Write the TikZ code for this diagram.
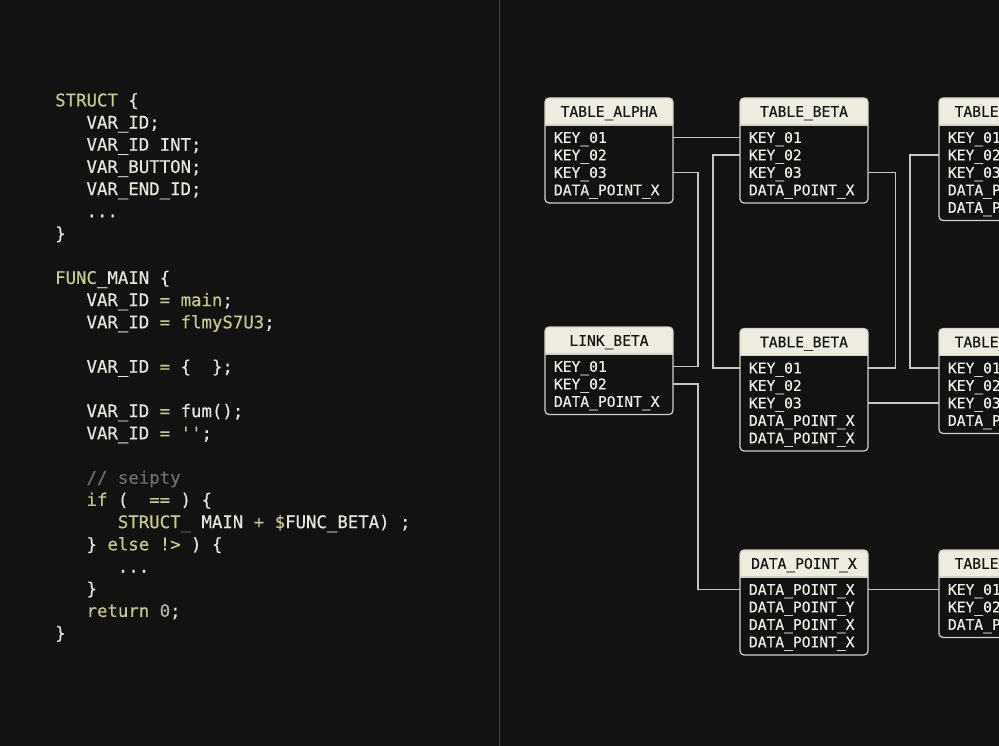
\documentclass[tikz,border=0pt]{standalone}
\usepackage{fontspec}
\setmonofont[FakeBold=0.35]{DejaVu Sans Mono}
\usetikzlibrary{calc}
\definecolor{bg}{HTML}{121212}
\definecolor{codew}{HTML}{E8E6DC}
\definecolor{kwcol}{HTML}{C9C98C}
\definecolor{cmtcol}{HTML}{6E6E6A}
\definecolor{zerocol}{HTML}{B4B4A6}
\definecolor{dimcol}{HTML}{6A6A5A}
\definecolor{dividercol}{HTML}{4A4A4A}
\definecolor{hdrfill}{HTML}{EEEBDF}
\definecolor{hdrtxt}{HTML}{161616}
\definecolor{framecol}{HTML}{D4D2C8}
\definecolor{rowcol}{HTML}{F0EEE6}
\definecolor{wirecol}{HTML}{C8C6BE}
\newcommand\kw[1]{\textcolor{kwcol}{#1}}
\newcommand\cmt[1]{\textcolor{cmtcol}{#1}}
\tikzset{
  hdr/.style={minimum width=128pt, minimum height=27pt, inner sep=0pt,
    text height=10.6pt, text depth=0pt,
    font=\ttfamily\fontsize{14.6}{17}\selectfont, text=hdrtxt},
  tabrow/.style={text width=110pt, inner xsep=9pt, inner ysep=0pt,
    minimum height=17.5pt, text height=10.6pt, text depth=0pt, align=left,
    font=\ttfamily\fontsize{14.6}{17}\selectfont, text=rowcol},
  codeline/.style={anchor=west, inner sep=0pt, text height=12.65pt, text depth=0pt,
    font=\ttfamily\fontsize{17.36}{20}\selectfont, text=codew},
  connector/.style={draw=wirecol, line width=1.3pt},
  tabframe/.style={draw=framecol, line width=1.2pt},
}
\newcommand\dbtable[5]{%
  \path[fill=hdrfill] (#2,#3+27) {[rounded corners=4pt] -- (#2,#3) -- (#2+128,#3)} -- (#2+128,#3+27) -- cycle;
  \node[hdr] (#1) at (#2+64,#3+13.5) {#4};
  \foreach \r [count=\i] in {#5} {\node[tabrow] (#1\i) at (#2+64,#3+22+17.5*\i) {\r}; \xdef\nrows{\i}}
  \draw[tabframe] (#2,#3+27) -- (#2+128,#3+27);
  \draw[tabframe, rounded corners=4pt] (#2,#3) rectangle (#2+128,#3+35+17.5*\nrows);
}
\begin{document}
\begin{tikzpicture}[x=1pt,y=-1pt]
\useasboundingbox (0,0) rectangle (999,746);
\clip (0,0) rectangle (999,746);
\fill[bg] (0,0) rectangle (999,746);
\draw[dividercol, line width=1.5pt] (499.5,0) -- (499.5,746);

% code
\def\cx#1{55+10.45*#1}
\node[codeline] (c0)  at ({\cx0},100)    {\kw{STRUCT} \{};
\node[codeline] (c1)  at ({\cx3},122.2)  {VAR\_ID;};
\node[codeline] (c2)  at ({\cx3},144.4)  {VAR\_ID INT;};
\node[codeline] (c3)  at ({\cx3},166.6)  {VAR\_BUTTON;};
\node[codeline] (c4)  at ({\cx3},188.8)  {VAR\_END\_ID;};
\node[codeline] (c5)  at ({\cx3},211)    {...};
\node[codeline] (c6)  at ({\cx0},233.2)  {\}};
\node[codeline] (c8)  at ({\cx0},277.6)  {\kw{FUNC}\_MAIN \{};
\node[codeline] (c9)  at ({\cx3},299.8)  {VAR\_ID \kw{= main};};
\node[codeline] (c10) at ({\cx3},322)    {VAR\_ID \kw{= flmyS7U3};};
\node[codeline] (c12) at ({\cx3},366.4)  {VAR\_ID \kw{=} \{~~\};};
\node[codeline] (c14) at ({\cx3},410.8)  {VAR\_ID \kw{=} fum();};
\node[codeline] (c15) at ({\cx3},433)    {VAR\_ID \kw{= ''};};
\node[codeline] (c17) at ({\cx3},477.4)  {\cmt{// seipty}};
\node[codeline] (c18) at ({\cx3},499.6)  {\kw{if} (~~\kw{==} ) \{};
\node[codeline] (c19) at ({\cx6},521.8)  {\kw{STRUCT}\textcolor{dimcol}{\_} MAIN \kw{+} \kw{\$}FUNC\_BETA) ;};
\node[codeline] (c20) at ({\cx3},544)    {\} \kw{else !>} ) \{};
\node[codeline] (c21) at ({\cx6},566.2)  {...};
\node[codeline] (c22) at ({\cx3},588.4)  {\}};
\node[codeline] (c23) at ({\cx3},610.6)  {\kw{return} \textcolor{zerocol}{0};};
\node[codeline] (c24) at ({\cx0},632.8)  {\}};

% tables
\dbtable{ta}{545}{98}{TABLE\_ALPHA}{KEY\_01,KEY\_02,KEY\_03,DATA\_POINT\_X}
\dbtable{tb}{740}{98}{TABLE\_BETA}{KEY\_01,KEY\_02,KEY\_03,DATA\_POINT\_X}
\dbtable{tg}{939}{98}{TABLE\_GAMMA}{KEY\_01,KEY\_02,KEY\_03,DATA\_POINT\_X,DATA\_POINT\_X}
\dbtable{lb}{545}{327}{LINK\_BETA}{KEY\_01,KEY\_02,DATA\_POINT\_X}
\dbtable{tc}{740}{328.5}{TABLE\_BETA}{KEY\_01,KEY\_02,KEY\_03,DATA\_POINT\_X,DATA\_POINT\_X}
\dbtable{th}{939}{328.5}{TABLE\_DELTA}{KEY\_01,KEY\_02,KEY\_03,DATA\_POINT\_X}
\dbtable{dp}{740}{550}{DATA\_POINT\_X}{DATA\_POINT\_X,DATA\_POINT\_Y,DATA\_POINT\_X,DATA\_POINT\_X}
\dbtable{ti}{939}{550}{TABLE\_OMEGA}{KEY\_01,KEY\_02,DATA\_POINT\_X}

% connectors
\coordinate (xa) at (698,0);
\coordinate (xb) at (713,0);
\coordinate (xc) at (895.5,0);
\coordinate (xd) at (910,0);
\draw[connector] (ta1.east) -- (tb1.west);
\draw[connector] (ta3.east) -| (xa |- lb1.east) -- (lb1.east);
\draw[connector] (lb2.east) -| (xa |- dp1.west) -- (dp1.west);
\draw[connector] (tb2.west) -| (xb |- tc1.west) -- (tc1.west);
\draw[connector] (tb3.east) -| (xc |- tc1.east) -- (tc1.east);
\draw[connector] (tg2.west) -| (xd |- th1.west) -- (th1.west);
\draw[connector] (tc3.east) -- (th3.west);
\draw[connector] (dp1.east) -- (ti1.west);
\end{tikzpicture}
\end{document}
